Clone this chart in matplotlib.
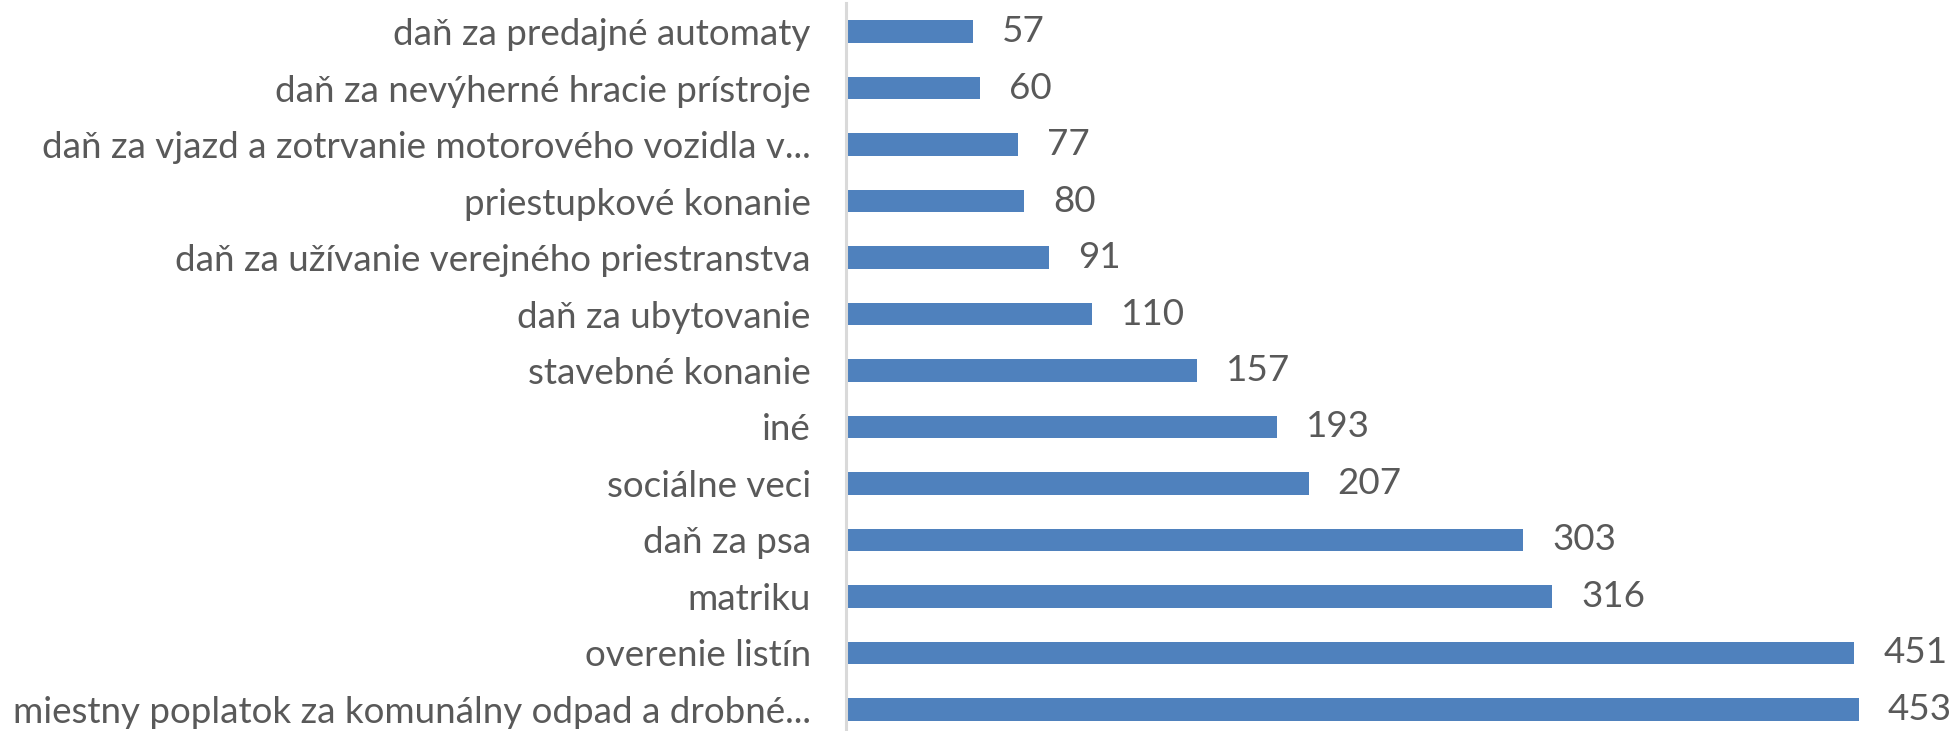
import numpy as np
import matplotlib
matplotlib.use("Agg")
import matplotlib.pyplot as plt

categories = [
    "daň za predajné automaty",
    "daň za nevýherné hracie prístroje",
    "daň za vjazd a zotrvanie motorového vozidla v...",
    "priestupkové konanie",
    "daň za užívanie verejného priestranstva",
    "daň za ubytovanie",
    "stavebné konanie",
    "iné",
    "sociálne veci",
    "daň za psa",
    "matriku",
    "overenie listín",
    "miestny poplatok za komunálny odpad a drobné...",
]
values = [57, 60, 77, 80, 91, 110, 157, 193, 207, 303, 316, 451, 453]

plt.rcParams['font.family'] = ['Lato', 'DejaVu Sans']
text_color = '#595959'
bar_color = '#4F81BD'

fig = plt.figure(figsize=(19.55, 7.31), dpi=100)
# axes runs a bit past the bottom edge, the original is cropped there
ax = fig.add_axes([845.5 / 1955, -6.6 / 731, (1955 - 845.5) / 1955, 734.2 / 731])

y = np.arange(len(values))
ax.barh(y, values, height=0.4, color=bar_color)
ax.set_ylim(len(values) - 0.5, -0.5)
ax.set_xlim(0, 496)

ax.set_yticks(y)
ax.set_yticklabels(categories, fontsize=26.5, color=text_color)
ax.tick_params(axis='y', length=0, pad=25)
ax.set_xticks([])

for s in ['top', 'right', 'bottom']:
    ax.spines[s].set_visible(False)
ax.spines['left'].set_color('#D9D9D9')
ax.spines['left'].set_linewidth(2.2)

for yi, v in zip(y, values):
    ax.annotate(str(v), (v, yi), xytext=(21, 0), textcoords='offset points',
                ha='left', va='center', fontsize=26.5, color=text_color)

fig.savefig('out.png', dpi=100)
